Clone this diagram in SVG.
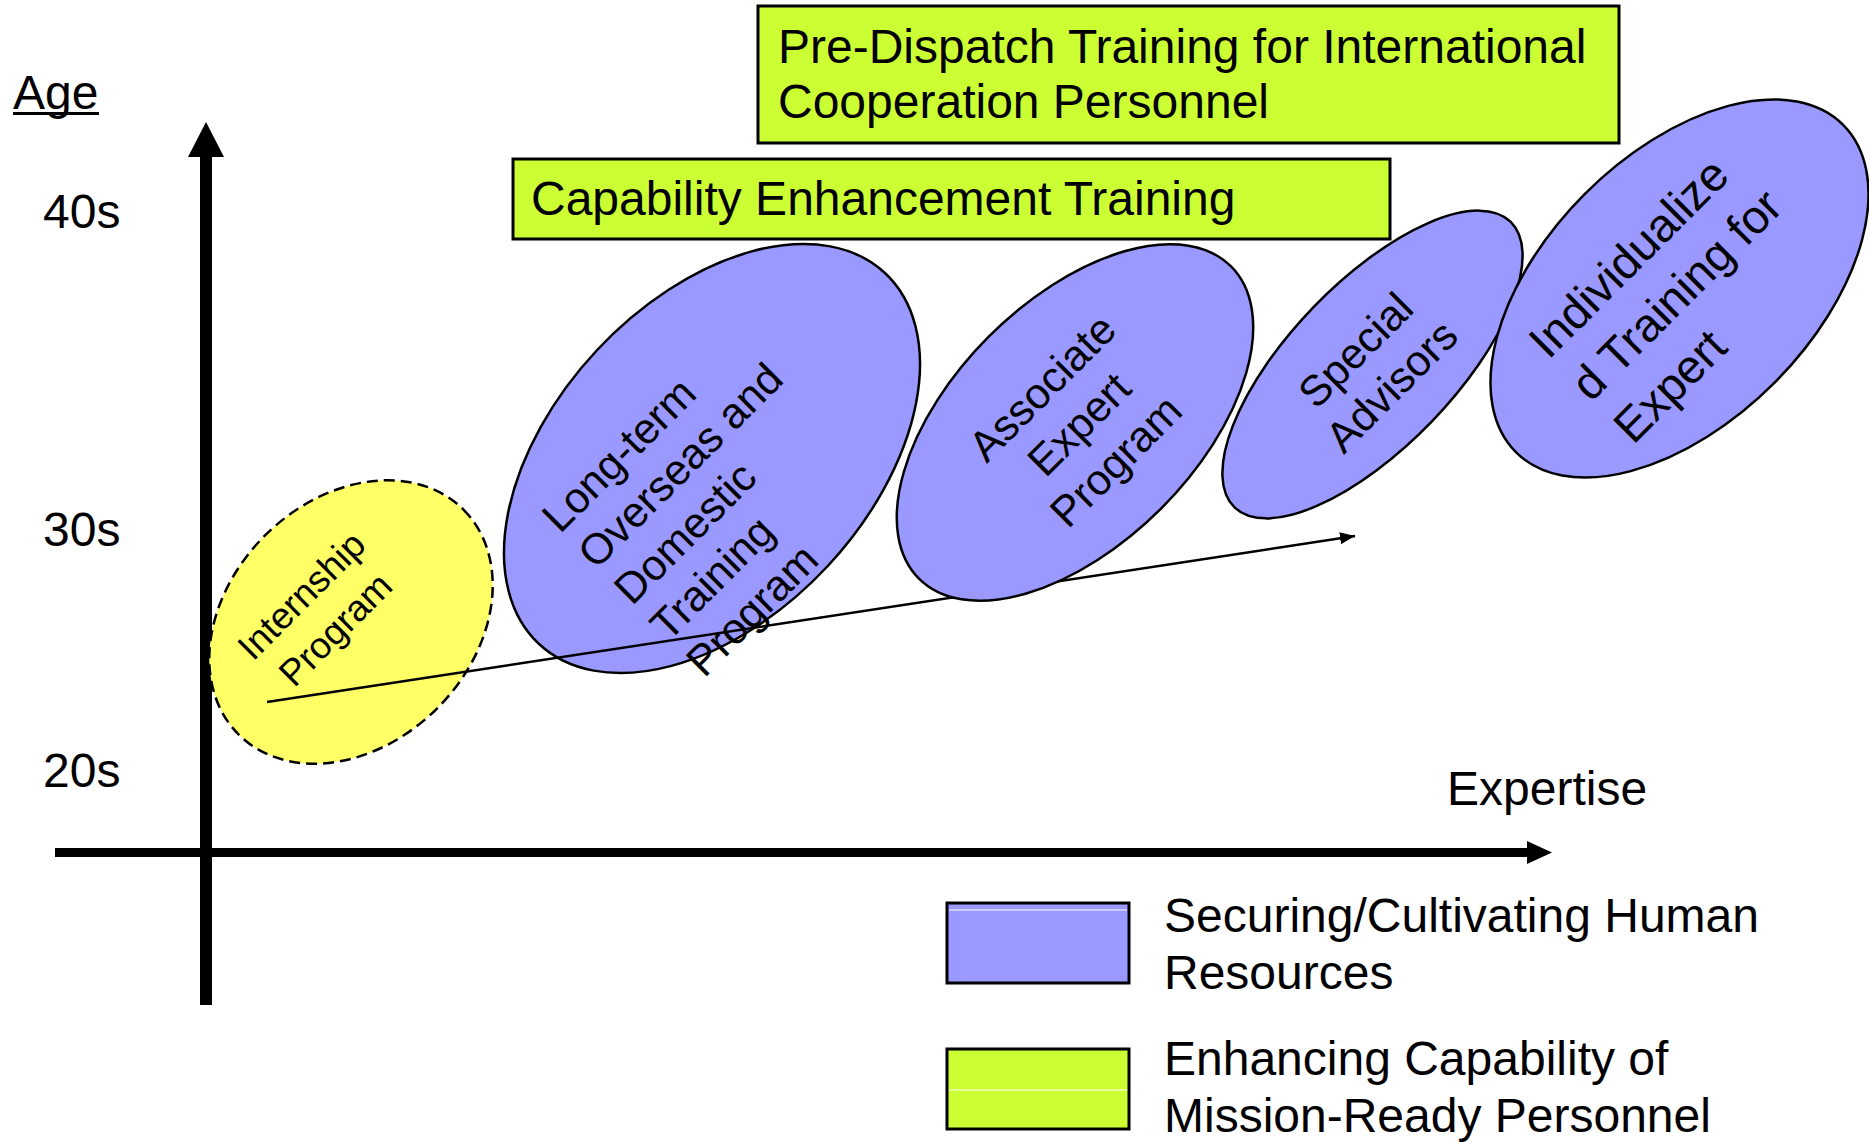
<svg xmlns="http://www.w3.org/2000/svg" width="1869" height="1142" viewBox="0 0 1869 1142">
<defs>
<style>
text{font-family:"Liberation Sans",Arial,sans-serif;fill:#000}
.t48{font-size:48px}
.t43{font-size:43px}
.t47{font-size:47px}
.t37{font-size:37px}
.blue{fill:#9999FF;stroke:#000;stroke-width:2.5}
.yellow{fill:#FFFF66;stroke:#000;stroke-width:2.5;stroke-dasharray:11 6}
.green{fill:#CCFF33;stroke:#000;stroke-width:3}
.axis{fill:#000}
.trend{stroke:#000;stroke-width:2.5;fill:none}
.hl{stroke:#fff;stroke-width:1.2}
</style>
<marker id="arr" markerUnits="userSpaceOnUse" markerWidth="16" markerHeight="12" refX="15" refY="6" orient="auto">
<path d="M0,0 L15,6 L0,12 z" fill="#000"/>
</marker>
</defs>
<rect width="1869" height="1142" fill="#fff"/>

<g id="axes">
<rect class="axis" x="200" y="155" width="12" height="850"/>
<polygon class="axis" points="188,157 224,157 206,122"/>
<rect class="axis" x="55" y="848" width="1474" height="9"/>
<polygon class="axis" points="1527,841 1527,864 1552,852.5"/>
<text class="t48" x="13" y="109">Age</text>
<rect x="13" y="112" width="86" height="3" fill="#000"/>
<text class="t48" x="43" y="228">40s</text>
<text class="t48" x="43" y="546">30s</text>
<text class="t48" x="43" y="787">20s</text>
<text class="t48" x="1447" y="805">Expertise</text>
</g>

<g id="node-internship">
<ellipse class="yellow" cx="351" cy="622" rx="159" ry="122" transform="rotate(-45 351 622)"/>
<text class="t37" text-anchor="middle" transform="translate(310.4,604.5) rotate(-45)"><tspan x="0" y="0">Internship</tspan><tspan x="0" y="48">Program</tspan></text>
</g>

<g id="node-longterm">
<ellipse class="blue" cx="712" cy="458.5" rx="253.6" ry="158" transform="rotate(-47 712 458.5)"/>
<text class="t43" transform="translate(560,534.5) rotate(-45)"><tspan x="0" y="0">Long-term</tspan><tspan x="0" y="51">Overseas and</tspan><tspan x="0" y="102">Domestic</tspan><tspan x="0" y="153">Training</tspan><tspan x="0" y="204">Program</tspan></text>
</g>

<g id="connectors">
<line class="trend" x1="267" y1="702" x2="1355" y2="536" marker-end="url(#arr)"/>
</g>

<g id="node-associate">
<ellipse class="blue" cx="1075" cy="422.5" rx="220.7" ry="121.7" transform="rotate(-45 1075 422.5)"/>
<text class="t43" text-anchor="middle" transform="translate(1089.5,434.8) rotate(-45)"><tspan x="0" y="-52">Associate</tspan><tspan x="0" y="0">Expert</tspan><tspan x="0" y="52">Program</tspan></text>
</g>

<g id="node-special">
<ellipse class="blue" cx="1372.5" cy="364.5" rx="198.6" ry="82.3" transform="rotate(-46 1372.5 364.5)"/>
<text class="t43" text-anchor="middle" transform="translate(1366,360.6) rotate(-45)"><tspan x="0" y="0">Special</tspan><tspan x="0" y="51">Advisors</tspan></text>
</g>

<g id="node-individualized">
<ellipse class="blue" cx="1679.5" cy="288.5" rx="231.4" ry="133.8" transform="rotate(-45 1679.5 288.5)"/>
<text class="t47" transform="translate(1548.5,360.6) rotate(-45)"><tspan x="0" y="0">Individualize</tspan><tspan x="0" y="60">d Training for</tspan><tspan x="0" y="120">Expert</tspan></text>
</g>

<g id="node-predispatch">
<rect class="green" x="758" y="6" width="861" height="137"/>
<text class="t48" x="778" y="63">Pre-Dispatch Training for International</text>
<text class="t48" x="778" y="118">Cooperation Personnel</text>
</g>

<g id="node-capability">
<rect class="green" x="513" y="159" width="877" height="80"/>
<text class="t48" x="531" y="215">Capability Enhancement Training</text>
</g>

<g id="legend">
<rect class="blue" x="947" y="903" width="182" height="80" style="stroke-width:3"/>
<line class="hl" x1="949" y1="910" x2="1127" y2="910"/>
<text class="t48" x="1164" y="932">Securing/Cultivating Human</text>
<text class="t48" x="1164" y="989">Resources</text>
<rect class="green" x="947" y="1049" width="182" height="80"/>
<line class="hl" x1="949" y1="1090" x2="1127" y2="1090"/>
<text class="t48" x="1164" y="1075">Enhancing Capability of</text>
<text class="t48" x="1164" y="1132">Mission-Ready Personnel</text>
</g>
</svg>
